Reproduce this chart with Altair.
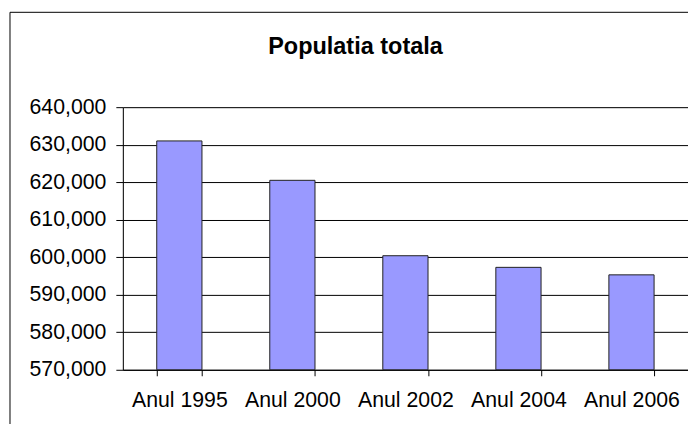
import altair as alt
import pandas as pd

title_text = "Populatia totala"
categories = ["Anul 1995", "Anul 2000", "Anul 2002", "Anul 2004", "Anul 2006"]
population = [631000, 620500, 600400, 597300, 595300]
y_ticks = [570000, 580000, 590000, 600000, 610000, 620000, 630000, 640000]
y_min, y_max = 570000, 640000

df = pd.DataFrame({"an": categories, "pop": population, "base": [y_min] * len(categories)})

FONT = "Liberation Sans"

x_enc = alt.X(
    "an:N",
    sort=categories,
    title=None,
    scale=alt.Scale(paddingInner=0.6, paddingOuter=0.3),
    axis=alt.Axis(
        labelAngle=0,
        tickBand="extent",
        domainColor="black",
        tickColor="black",
        tickSize=6,
        labelPadding=14,
        labelFont=FONT,
        labelFontSize=21.3,
        labelColor="black",
    ),
)
y_enc = alt.Y(
    "pop:Q",
    title=None,
    scale=alt.Scale(domain=[y_min, y_max], nice=False, zero=False),
    axis=alt.Axis(
        values=y_ticks,
        format=",d",
        grid=True,
        gridColor="black",
        gridWidth=1,
        domainColor="black",
        tickColor="black",
        tickSize=7,
        labelPadding=10,
        labelFont=FONT,
        labelFontSize=21.3,
        labelColor="black",
    ),
)

bars = alt.Chart(df).mark_bar(
    color="#9999FF", stroke="#222222", strokeWidth=1
).encode(x=x_enc, y=y_enc, y2="base:Q")

frame = alt.Data(values=[{"k": 1}])
top_line = alt.Chart(frame).mark_rule(color="black", strokeWidth=1).encode(
    x=alt.value(-113), x2=alt.value(600), y=alt.value(-95)
)
left_line = alt.Chart(frame).mark_rule(color="black", strokeWidth=1).encode(
    x=alt.value(-113), y=alt.value(-95), y2=alt.value(330)
)
title_mark = alt.Chart(frame).mark_text(
    font=FONT, fontSize=23.5, fontWeight="bold", color="black",
    align="center", baseline="alphabetic"
).encode(x=alt.value(233), y=alt.value(-53), text=alt.value(title_text))

chart = (
    alt.layer(bars, top_line, left_line, title_mark)
    .properties(
        width=566,
        height=263,
        padding={"left": 115, "top": 99, "right": 0, "bottom": 54},
        autosize=alt.AutoSizeParams(type="none"),
    )
    .configure_view(fill="#C0C0C0", stroke="#808080", strokeWidth=1)
    .configure(background="white")
)

chart.save("out.html", embed_options={"renderer": "svg", "actions": False})
